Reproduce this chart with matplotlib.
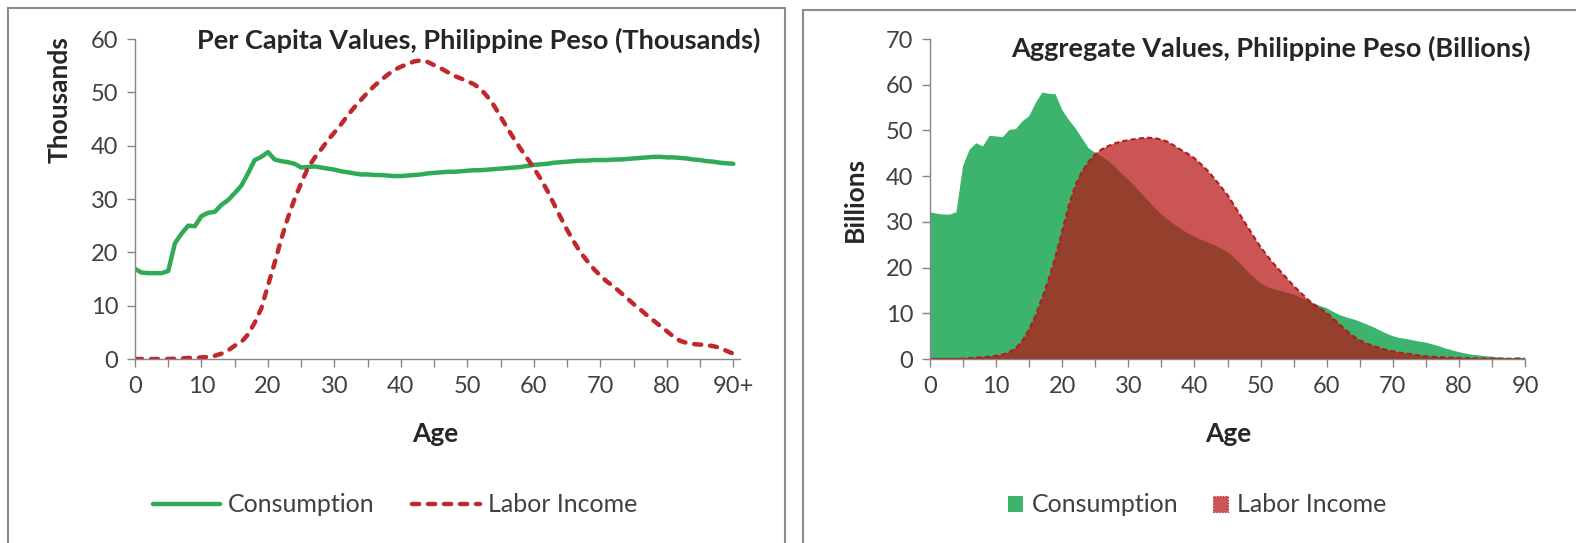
import numpy as np
import matplotlib
matplotlib.use('Agg')
import matplotlib.pyplot as plt
from matplotlib.patches import Rectangle, Patch

plt.rcParams['font.family'] = ['Lato', 'DejaVu Sans']

# ages 0..90 (90 = 90+)
ages = np.arange(0, 91)

# per capita values, thousands of pesos
pc_consumption = [
    16.9, 16.2, 16.1, 16.1, 16.1, 16.5, 21.7, 23.5, 25.0, 24.9,
    26.8, 27.4, 27.6, 28.9, 29.8, 31.1, 32.5, 34.8, 37.3, 37.9,
    38.8, 37.4, 37.1, 36.9, 36.6, 35.9, 36.0, 36.1, 35.9, 35.7,
    35.5, 35.2, 35.0, 34.8, 34.6, 34.6, 34.5, 34.5, 34.4, 34.3,
    34.3, 34.4, 34.5, 34.6, 34.8, 34.9, 35.0, 35.1, 35.1, 35.2,
    35.3, 35.4, 35.4, 35.5, 35.6, 35.7, 35.8, 35.9, 36.0, 36.2,
    36.4, 36.5, 36.6, 36.8, 36.9, 37.0, 37.1, 37.2, 37.2, 37.3,
    37.3, 37.3, 37.4, 37.4, 37.5, 37.6, 37.7, 37.8, 37.9, 37.9,
    37.8, 37.8, 37.7, 37.6, 37.4, 37.3, 37.1, 37.0, 36.8, 36.7,
    36.6]
pc_labor = [
    0.0, 0.0, 0.0, 0.0, 0.0, 0.0, 0.05, 0.1, 0.2, 0.2,
    0.3, 0.4, 0.6, 1.0, 1.6, 2.5, 3.2, 4.6, 6.8, 9.5,
    13.8, 18.0, 22.5, 26.5, 30.0, 33.0, 35.8, 37.7, 39.3, 41.0,
    42.5, 44.0, 45.7, 47.2, 48.6, 50.0, 51.2, 52.3, 53.3, 54.2,
    54.8, 55.3, 55.8, 56.0, 55.7, 55.1, 54.5, 53.8, 53.1, 52.6,
    52.1, 51.5, 50.6, 49.2, 47.5, 45.4, 43.3, 41.3, 39.4, 37.6,
    35.8, 33.8, 31.6, 29.1, 26.6, 24.2, 22.0, 20.0, 18.4, 16.9,
    15.6, 14.5, 13.6, 12.5, 11.4, 10.3, 9.3, 8.2, 7.2, 6.2,
    5.2, 4.2, 3.4, 3.0, 2.8, 2.7, 2.6, 2.4, 2.1, 1.5,
    1.0]

# aggregate values, billions of pesos
agg_consumption = [
    32.1, 31.8, 31.6, 31.6, 32.1, 42.2, 45.8, 47.2, 46.5, 48.8,
    48.7, 48.5, 50.1, 50.3, 52.0, 53.1, 56.0, 58.3, 58.0, 57.9,
    54.5, 52.3, 50.5, 48.3, 46.1, 45.1, 44.3, 43.3, 42.0, 40.6,
    39.2, 37.8, 36.2, 34.6, 33.1, 31.6, 30.5, 29.4, 28.4, 27.5,
    26.8, 26.1, 25.5, 24.9, 24.2, 23.4, 22.2, 20.8, 19.2, 17.9,
    16.6, 15.8, 15.3, 14.9, 14.5, 14.1, 13.5, 12.9, 12.2, 11.6,
    11.1, 10.3, 9.6, 9.1, 8.7, 8.2, 7.6, 7.0, 6.3, 5.6,
    5.0, 4.6, 4.4, 4.1, 3.8, 3.6, 3.2, 2.8, 2.3, 1.9,
    1.5, 1.2, 0.95, 0.8, 0.6, 0.5, 0.35, 0.25, 0.2, 0.4,
    0.1]
agg_labor = [
    0.0, 0.0, 0.0, 0.0, 0.0, 0.1, 0.2, 0.3, 0.4, 0.5,
    0.7, 1.0, 1.5, 2.4, 4.0, 6.5, 9.6, 13.5, 17.6, 22.5,
    28.0, 33.6, 38.0, 41.0, 43.2, 44.8, 45.9, 46.6, 47.2, 47.6,
    47.9, 48.1, 48.3, 48.4, 48.3, 48.0, 47.5, 46.6, 45.7, 44.9,
    43.9, 42.6, 41.2, 39.5, 37.7, 35.9, 33.6, 31.3, 29.0, 26.7,
    24.5, 22.6, 20.8, 19.2, 17.6, 16.0, 14.6, 13.2, 12.0, 11.1,
    10.1, 8.8, 7.5, 6.2, 5.0, 4.1, 3.4, 2.9, 2.4, 2.0,
    1.7, 1.4, 1.2, 1.0, 0.8, 0.6, 0.5, 0.4, 0.35, 0.3,
    0.25, 0.2, 0.15, 0.12, 0.1, 0.1, 0.08, 0.06, 0.05, 0.05,
    0.05]

left_xticklabels = ['0', '10', '20', '30', '40', '50', '60', '70', '80', '90+']
right_xticklabels = ['0', '10', '20', '30', '40', '50', '60', '70', '80', '90']

W, H = 1576, 543
fig = plt.figure(figsize=(W / 100, H / 100), dpi=100)

axis_gray = '#868686'
text_gray = '#404040'
title_col = '#262626'
red_fill = (0.72, 0.08, 0.08, 0.72)
red_edge = '#B01E1E'


def fx(px):
    return px / W


def fy(py):
    return 1 - py / H


# panel frames
fig.patches.append(Rectangle((fx(8), fy(560)), fx(777), fy(8) - fy(560),
                             transform=fig.transFigure, fill=False,
                             edgecolor='#8c8c8c', linewidth=1.5))
fig.patches.append(Rectangle((fx(803), fy(560)), fx(780), fy(10) - fy(560),
                             transform=fig.transFigure, fill=False,
                             edgecolor='#8c8c8c', linewidth=1.5))


def style_axes(ax, xlabels, ymax, ystep):
    for s in ['top', 'right']:
        ax.spines[s].set_visible(False)
    for s in ['left', 'bottom']:
        ax.spines[s].set_color(axis_gray)
        ax.spines[s].set_linewidth(1.0)
    ax.set_ylim(0, ymax)
    ax.set_yticks(np.arange(0, ymax + 1, ystep))
    ax.set_xticks(np.arange(0, 91, 5))
    ax.set_xticklabels([xlabels[i // 2] if i % 2 == 0 else '' for i in range(19)])
    ax.tick_params(axis='both', colors=axis_gray, labelcolor=text_gray,
                   labelsize=17, length=6, width=1.0, direction='out')
    ax.tick_params(axis='x', pad=6)
    ax.tick_params(axis='y', pad=6)


# ---- left: per capita lines
ax1 = fig.add_axes([fx(135), fy(359), fx(605), fy(39) - fy(359)])
ax1.plot(ages, pc_consumption, color='#2EAB54', linewidth=3.2,
         solid_capstyle='round', label='Consumption')
ax1.plot(ages, pc_labor, color='#C0282D', linewidth=3.2, linestyle=(0, (1.6, 2.0)),
         dash_capstyle='round', label='Labor Income')
ax1.set_xlim(0, 91)
style_axes(ax1, left_xticklabels, 60, 10)
fig.text(fx(760), fy(40), 'Per Capita Values, Philippine Peso (Thousands)',
         ha='right', va='center', fontsize=19.5, fontweight='bold', color=title_col)
fig.text(fx(60), fy(100), 'Thousands', rotation=90, ha='center', va='center',
         fontsize=19, fontweight='bold', color=title_col)
fig.text(fx(435), fy(434), 'Age', ha='center', va='center',
         fontsize=19, fontweight='bold', color=title_col)
fig.legend(handles=ax1.get_lines(), loc='center', bbox_to_anchor=(fx(395), fy(505)),
           ncol=2, frameon=False, fontsize=18, handlelength=2.7,
           handletextpad=0.32, columnspacing=1.5, labelcolor=text_gray)

# ---- right: aggregate areas
ax2 = fig.add_axes([fx(930), fy(359), fx(595), fy(39) - fy(359)])
ax2.fill_between(ages, 0, agg_consumption, facecolor='#3CB46E', edgecolor='none')
ax2.fill_between(ages, 0, agg_labor, facecolor=red_fill, edgecolor=red_edge,
                 linewidth=1.5, linestyle=(0, (2.5, 1.5)))
ax2.set_xlim(0, 90)
style_axes(ax2, right_xticklabels, 70, 10)
fig.text(fx(1531), fy(48), 'Aggregate Values, Philippine Peso (Billions)',
         ha='right', va='center', fontsize=19.5, fontweight='bold', color=title_col)
fig.text(fx(855), fy(199), 'Billions', rotation=90, ha='center', va='center',
         fontsize=19, fontweight='bold', color=title_col)
fig.text(fx(1228), fy(434), 'Age', ha='center', va='center',
         fontsize=19, fontweight='bold', color=title_col)
legend_handles = [
    Patch(facecolor='#3CB46E', edgecolor='none', label='Consumption'),
    Patch(facecolor=red_fill, edgecolor=red_edge, linewidth=0.8, linestyle=':',
          label='Labor Income'),
]
fig.legend(handles=legend_handles, loc='center', bbox_to_anchor=(fx(1197), fy(505)),
           ncol=2, frameon=False, fontsize=18, handlelength=0.6, handleheight=0.6,
           handletextpad=0.35, columnspacing=1.4, labelcolor=text_gray)

fig.savefig('out.png', dpi=100, facecolor='white')
